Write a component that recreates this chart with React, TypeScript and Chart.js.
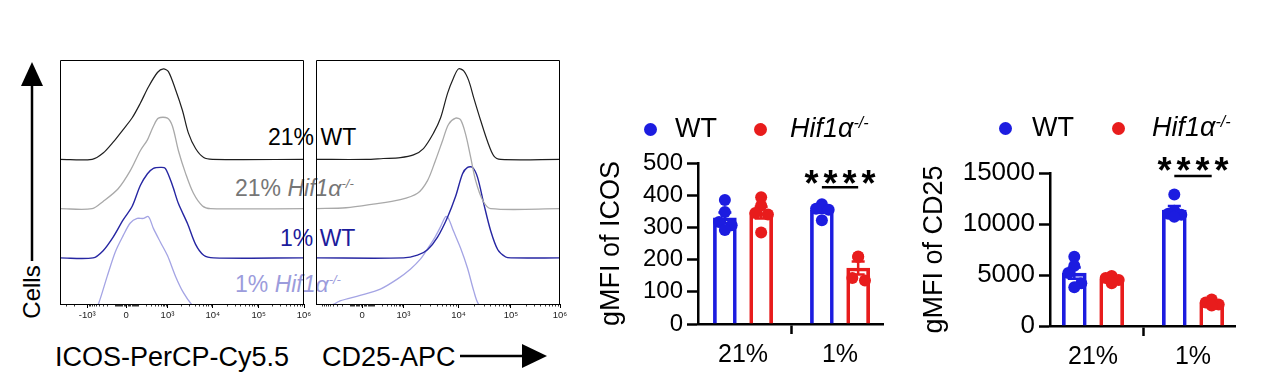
import React, { useEffect, useRef } from 'react';
import { Chart, registerables } from 'chart.js';

Chart.register(...registerables);

const FONT = "'Liberation Sans', Arial, Helvetica, sans-serif";

// ---------- Flow histograms: [channel (0-1024), % of mode] ----------
const ICOS_21_WT = [[0,0],[135,0],[181,7],[223,19],[265,33],[303,46],[337,62],[371,80],[409,96],[434,100],[455,97],[485,77],[514,54],[539,29],[569,12],[603,2],[640,0],[1024,0]];
const ICOS_21_KO = [[0,0],[135,0],[181,8],[244,22],[295,42],[337,64],[367,76],[392,91],[413,100],[451,100],[472,91],[497,64],[527,39],[560,17],[598,3],[632,0],[1024,0]];
const ICOS_1_WT = [[0,0],[139,0],[181,8],[223,23],[265,42],[303,57],[337,80],[367,93],[392,99],[421,100],[442,99],[472,80],[497,60],[535,38],[569,15],[603,3],[645,0],[1024,0]];
const ICOS_1_KO = [[0,0],[150,0],[162,4],[198,34],[232,61],[265,79],[295,93],[324,98],[350,98],[371,100],[392,87],[421,72],[451,57],[485,34],[518,16],[556,2],[575,0],[1024,0]];

const CD25_21_WT = [[0,0],[211,0],[282,1],[354,2],[409,5],[451,12],[493,29],[523,46],[552,73],[577,90],[598,100],[619,98],[641,87],[662,68],[691,43],[721,19],[746,4],[775,0],[1024,0]];
const CD25_21_KO = [[0,0],[126,1],[240,5],[354,10],[426,17],[468,31],[501,53],[531,75],[556,93],[586,100],[607,98],[628,82],[649,57],[670,31],[700,9],[733,0],[1024,0]];
const CD25_1_WT = [[0,0],[367,0],[426,3],[468,9],[510,23],[552,45],[586,68],[615,93],[636,100],[657,100],[678,89],[704,60],[733,30],[763,9],[796,1],[818,0],[1024,0]];
const CD25_1_KO = [[0,0],[72,3],[101,7],[185,13],[270,20],[341,31],[396,42],[438,53],[472,66],[501,78],[523,89],[544,100],[556,98],[577,84],[607,65],[636,43],[662,18],[683,3],[716,0],[1024,0]];

const ICOS_TICKS = [114, 278, 451, 641, 834, 1024];
const ICOS_TICK_LABELS = ['-10³', '0', '10³', '10⁴', '10⁵', '10⁶'];
const CD25_TICKS = [194, 367, 598, 818, 1024];
const CD25_TICK_LABELS = ['0', '10³', '10⁴', '10⁵', '10⁶'];

// ---------- gMFI bar charts ----------
const CATEGORIES = ['21%', '1%'];
const ICOS_WT = [[385, 348, 317, 307, 292], [372, 362, 358, 355, 322]];
const ICOS_KO = [[394, 368, 345, 340, 284], [210, 208, 143, 135]];
const CD25_WT = [[6800, 5900, 5200, 4200, 3800], [12900, 11300, 11000, 10900, 10700]];
const CD25_KO = [[4900, 4800, 4700, 4500, 4200], [2600, 2400, 2300, 2100, 2000]];

const BLUE = '#1c1ce0';
const RED = '#e81c1c';
const C_BLACK = '#1e1e1e';
const C_GRAY = '#a9a9a9';
const C_BLUE = '#2626a2';
const C_LIGHT = '#a4a4e4';

const STACK_OFFSET = 54.4;
const GROUP_OFFSET = 0.187;
const JITTER = [0, 0.0, -0.06, 0.07, 0.0];

const mean = (a: number[]) => a.reduce((s, v) => s + v, 0) / a.length;
const sem = (a: number[]) => {
  const m = mean(a);
  return Math.sqrt(a.reduce((s, v) => s + (v - m) ** 2, 0) / (a.length - 1)) / Math.sqrt(a.length);
};

function minorPositions(ticks: number[], hasNeg: boolean) {
  const out: number[] = [];
  const zi = hasNeg ? 1 : 0;
  const zero = ticks[zi];
  const p1k = ticks[zi + 1];
  const n1k = hasNeg ? ticks[0] : zero - (p1k - zero);
  const lin = [10, 20, 30, 40, 50, 60, 70, 80, 90, 100, 200, 300, 400, 500, 600, 700, 800, 900];
  const f = (v: number) => Math.asinh(v / 100) / Math.asinh(10);
  lin.forEach((v) => {
    out.push(zero + (p1k - zero) * f(v));
    out.push(zero - (zero - n1k) * f(v));
  });
  const dec = ticks.slice(zi + 1);
  for (let i = 0; i < dec.length - 1; i++) {
    for (let k = 2; k <= 9; k++) out.push(dec[i] + (dec[i + 1] - dec[i]) * Math.log10(k));
  }
  const span = dec[1] - dec[0];
  for (let k = 2; k <= 9; k++) out.push(n1k - span * Math.log10(k));
  return out.filter((p) => p > 0 && p < 1024);
}

function HistChart({ left, curves, ticks, labels }: any) {
  const ref = useRef<HTMLCanvasElement>(null);
  useEffect(() => {
    const minors = minorPositions(ticks, ticks.length === 6);
    const framePlugin = {
      id: 'frame',
      afterDraw(chart: any) {
        const { ctx, chartArea: a, scales } = chart;
        ctx.save();
        ctx.strokeStyle = '#000';
        ctx.lineWidth = 1;
        ctx.beginPath();
        ctx.moveTo(a.left + 0.5, a.bottom);
        ctx.lineTo(a.left + 0.5, a.top + 0.5);
        ctx.lineTo(a.right - 0.5, a.top + 0.5);
        ctx.lineTo(a.right - 0.5, a.bottom);
        ctx.stroke();
        ctx.lineWidth = 0.8;
        ctx.beginPath();
        minors.forEach((p) => {
          const px = Math.round(scales.x.getPixelForValue(p)) + 0.5;
          ctx.moveTo(px, a.bottom);
          ctx.lineTo(px, a.bottom + 2.5);
        });
        ctx.stroke();
        ctx.restore();
      },
    };
    const chart = new Chart(ref.current!, {
      type: 'line',
      data: {
        datasets: curves.map((c: any) => ({
          data: c.data.map(([x, y]: number[]) => ({ x, y: y + c.level * STACK_OFFSET })),
          borderColor: c.color,
          borderWidth: c.width,
          pointRadius: 0,
          tension: 0.3,
          fill: false,
        })),
      },
      options: {
        animation: false,
        responsive: false,
        layout: { padding: { left: 1, right: 11, top: 1, bottom: 0 } },
        plugins: { legend: { display: false }, tooltip: { enabled: false } },
        scales: {
          x: {
            type: 'linear',
            min: 0,
            max: 1024,
            afterBuildTicks: (s: any) => {
              s.ticks = ticks.map((v: number) => ({ value: v }));
            },
            afterFit: (s: any) => {
              s.height = 30;
            },
            ticks: {
              autoSkip: false,
              maxRotation: 0,
              padding: 2,
              color: '#222',
              font: { family: FONT, size: 9.5 },
              callback: (v: any) => labels[ticks.indexOf(v)],
            },
            grid: { drawOnChartArea: false, tickLength: 4, tickColor: '#000', tickWidth: 1 },
            border: { color: '#000', width: 1 },
          },
          y: { display: false, min: 3.5, max: 273 },
        },
      } as any,
      plugins: [framePlugin],
    });
    return () => chart.destroy();
  }, []);
  return <canvas ref={ref} width={256} height={275} style={{ position: 'absolute', left, top: 59 }} />;
}

function BarChart({ left, width, wt, ko, yMax, yStep, title, titlePad, yAxisWidth, xAxisHeight, xMin, xMax, padRight, padTop, barW, starsY, lineY, yTickSize, xTickSize }: any) {
  const ref = useRef<HTMLCanvasElement>(null);
  useEffect(() => {
    const groups = [wt, ko];
    const errPlugin = {
      id: 'errbars',
      afterDatasetDraw(chart: any, args: any) {
        if (args.index > 1) return;
        const { ctx, scales } = chart;
        const ds = chart.data.datasets[args.index];
        ctx.save();
        ctx.strokeStyle = ds.borderColor;
        ctx.lineWidth = 2.5;
        groups[args.index].forEach((g: number[], i: number) => {
          const m = mean(g);
          const s = sem(g);
          const px = scales.x.getPixelForValue(ds.data[i].x);
          const t = scales.y.getPixelForValue(m + s);
          const b = scales.y.getPixelForValue(m - s);
          ctx.beginPath();
          ctx.moveTo(px, t);
          ctx.lineTo(px, b);
          ctx.moveTo(px - 6.5, t);
          ctx.lineTo(px + 6.5, t);
          ctx.moveTo(px - 6.5, b);
          ctx.lineTo(px + 6.5, b);
          ctx.stroke();
        });
        ctx.restore();
      },
    };
    const sigPlugin = {
      id: 'sig',
      afterDraw(chart: any) {
        const { ctx, scales } = chart;
        const x0 = scales.x.getPixelForValue(1 - GROUP_OFFSET);
        const x1 = scales.x.getPixelForValue(1 + GROUP_OFFSET);
        const ly = scales.y.getPixelForValue(lineY);
        const sy = scales.y.getPixelForValue(starsY);
        ctx.save();
        ctx.strokeStyle = '#000';
        ctx.lineWidth = 2.5;
        ctx.beginPath();
        ctx.moveTo(x0, ly);
        ctx.lineTo(x1, ly);
        ctx.stroke();
        ctx.fillStyle = '#000';
        ctx.font = `bold 36px ${FONT}`;
        ctx.textAlign = 'center';
        ctx.textBaseline = 'alphabetic';
        const cx = (x0 + x1) / 2;
        [-1.5, -0.5, 0.5, 1.5].forEach((k) => ctx.fillText('*', cx + k * 19, sy + 20.5));
        ctx.restore();
      },
    };
    const bar = (arr: number[][], color: string, off: number) => ({
      type: 'bar',
      data: arr.map((g, i) => ({ x: i + off, y: mean(g) })),
      backgroundColor: 'rgba(255,255,255,0)',
      borderColor: color,
      borderWidth: 3,
      borderSkipped: 'start',
      barThickness: barW,
      grouped: false,
      order: 2,
    });
    const pts = (arr: number[][], color: string, off: number) => ({
      type: 'scatter',
      data: arr.flatMap((g, i) => g.map((v, j) => ({ x: i + off + JITTER[j % JITTER.length], y: v }))),
      backgroundColor: color,
      pointRadius: 6,
      pointBorderWidth: 0,
      order: 1,
    });
    const chart = new Chart(ref.current!, {
      type: 'bar',
      data: {
        datasets: [
          bar(wt, BLUE, -GROUP_OFFSET),
          bar(ko, RED, GROUP_OFFSET),
          pts(wt, BLUE, -GROUP_OFFSET),
          pts(ko, RED, GROUP_OFFSET),
        ],
      } as any,
      options: {
        animation: false,
        responsive: false,
        layout: { padding: { left: 0, right: padRight, top: padTop, bottom: 0 } },
        plugins: { legend: { display: false }, tooltip: { enabled: false } },
        scales: {
          x: {
            type: 'linear',
            min: xMin,
            max: xMax,
            offset: false,
            afterBuildTicks: (s: any) => {
              s.ticks = CATEGORIES.map((_, i) => ({ value: i }));
            },
            afterFit: (s: any) => {
              s.height = xAxisHeight;
            },
            ticks: {
              autoSkip: false,
              maxRotation: 0,
              padding: 6,
              color: '#000',
              font: { family: FONT, size: xTickSize },
              callback: (v: any) => CATEGORIES[v] ?? '',
            },
            grid: { drawOnChartArea: false, tickLength: 10, tickColor: '#000', tickWidth: 2.5 },
            border: { color: '#000', width: 2.5 },
          },
          y: {
            type: 'linear',
            min: 0,
            max: yMax,
            afterFit: (s: any) => {
              s.width = yAxisWidth;
            },
            ticks: {
              stepSize: yStep,
              padding: 4,
              color: '#000',
              font: { family: FONT, size: yTickSize },
              callback: (v: any) => String(v),
            },
            grid: { drawOnChartArea: false, tickLength: 11, tickColor: '#000', tickWidth: 2.5 },
            border: { color: '#000', width: 2.5 },
            title: {
              display: true,
              text: title,
              color: '#000',
              font: { family: FONT, size: 27 },
              padding: { top: titlePad, bottom: 0 },
            },
          },
        },
      } as any,
      plugins: [errPlugin, sigPlugin],
    });
    return () => chart.destroy();
  }, []);
  return <canvas ref={ref} width={width} height={240} style={{ position: 'absolute', left, top: 140 }} />;
}

function Txt({ x, capTop, size, color, children, italic }: any) {
  return (
    <div
      style={{
        position: 'absolute',
        left: x,
        top: capTop - size * 0.13,
        fontSize: size,
        lineHeight: 1,
        color,
        whiteSpace: 'nowrap',
        fontStyle: italic ? 'italic' : 'normal',
        fontFamily: FONT,
      }}
    >
      {children}
    </div>
  );
}

const Hif = ({ supSize }: any) => (
  <>
    <i>Hif1α</i>
    <i style={{ fontSize: supSize, position: 'relative', top: -supSize * 0.62 }}>-/-</i>
  </>
);

function Dot({ x, y, color }: any) {
  return (
    <div
      style={{
        position: 'absolute',
        left: x - 6.5,
        top: y - 6.5,
        width: 13,
        height: 13,
        borderRadius: '50%',
        background: color,
      }}
    />
  );
}

export default function App() {
  const icosCurves = [
    { data: ICOS_21_WT, color: C_BLACK, width: 1.2, level: 3 },
    { data: ICOS_21_KO, color: C_GRAY, width: 1.3, level: 2 },
    { data: ICOS_1_WT, color: C_BLUE, width: 1.4, level: 1 },
    { data: ICOS_1_KO, color: C_LIGHT, width: 1.3, level: 0 },
  ];
  const cd25Curves = [
    { data: CD25_21_WT, color: C_BLACK, width: 1.2, level: 3 },
    { data: CD25_21_KO, color: C_GRAY, width: 1.3, level: 2 },
    { data: CD25_1_WT, color: C_BLUE, width: 1.4, level: 1 },
    { data: CD25_1_KO, color: C_LIGHT, width: 1.3, level: 0 },
  ];
  return (
    <div
      style={{
        position: 'absolute',
        left: 0,
        top: 0,
        width: 1262,
        height: 387,
        background: '#fff',
        overflow: 'hidden',
        fontFamily: FONT,
      }}
    >
      {/* histogram labels (behind the frames) */}
      <Txt x={268} capTop={129} size={23} color="#000">21% WT</Txt>
      <Txt x={235} capTop={180} size={23} color="#767676">21% <Hif supSize={13} /></Txt>
      <Txt x={280} capTop={230} size={23} color="#1c1c9c">1% WT</Txt>
      <Txt x={235} capTop={276} size={23} color="#9c9cdc">1% <Hif supSize={13} /></Txt>

      <HistChart left={59} curves={icosCurves} ticks={ICOS_TICKS} labels={ICOS_TICK_LABELS} />
      <HistChart left={315} curves={cd25Curves} ticks={CD25_TICKS} labels={CD25_TICK_LABELS} />

      {/* Cells axis label */}
      <div
        style={{
          position: 'absolute',
          left: 32,
          top: 292,
          transform: 'translate(-50%, -50%) rotate(-90deg)',
          fontSize: 24,
          lineHeight: 1,
          whiteSpace: 'nowrap',
          color: '#000',
        }}
      >
        Cells
      </div>
      <Txt x={55} capTop={348} size={27} color="#000">ICOS-PerCP-Cy5.5</Txt>
      <Txt x={322} capTop={348} size={27} color="#000">CD25-APC</Txt>
      <svg width={1262} height={387} style={{ position: 'absolute', left: 0, top: 0, pointerEvents: 'none' }}>
        <line x1={32} y1={261} x2={32} y2={84} stroke="#000" strokeWidth={2.5} />
        <polygon points="32,62 21,86 43,86" fill="#000" />
        <line x1={460} y1={356} x2={524} y2={356} stroke="#000" strokeWidth={2.5} />
        <polygon points="547,356 522,344 522,368" fill="#000" />
      </svg>

      {/* legends */}
      <Dot x={650} y={129} color={BLUE} />
      <Txt x={675} capTop={119} size={27} color="#000">WT</Txt>
      <Dot x={760} y={129} color={RED} />
      <Txt x={790} capTop={119} size={27} color="#000"><Hif supSize={16} /></Txt>

      <Dot x={1005} y={128} color={BLUE} />
      <Txt x={1032} capTop={118} size={27} color="#000">WT</Txt>
      <Dot x={1118} y={128} color={RED} />
      <Txt x={1152} capTop={118} size={27} color="#000"><Hif supSize={16} /></Txt>

      <BarChart
        left={590}
        width={310}
        wt={ICOS_WT}
        ko={ICOS_KO}
        yMax={500}
        yStep={100}
        title="gMFI of ICOS"
        titlePad={5}
        yAxisWidth={108}
        xAxisHeight={56}
        xMin={-0.464}
        xMax={1.443}
        padRight={17}
        padTop={23}
        barW={23}
        starsY={460}
        lineY={425}
        yTickSize={24}
        xTickSize={25}
      />
      <BarChart
        left={910}
        width={352}
        wt={CD25_WT}
        ko={CD25_KO}
        yMax={15000}
        yStep={5000}
        title="gMFI of CD25"
        titlePad={8}
        yAxisWidth={140}
        xAxisHeight={54}
        xMin={-0.43}
        xMax={1.42}
        padRight={27}
        padTop={33}
        barW={24}
        starsY={16000}
        lineY={14700}
        yTickSize={26}
        xTickSize={25}
      />
    </div>
  );
}
